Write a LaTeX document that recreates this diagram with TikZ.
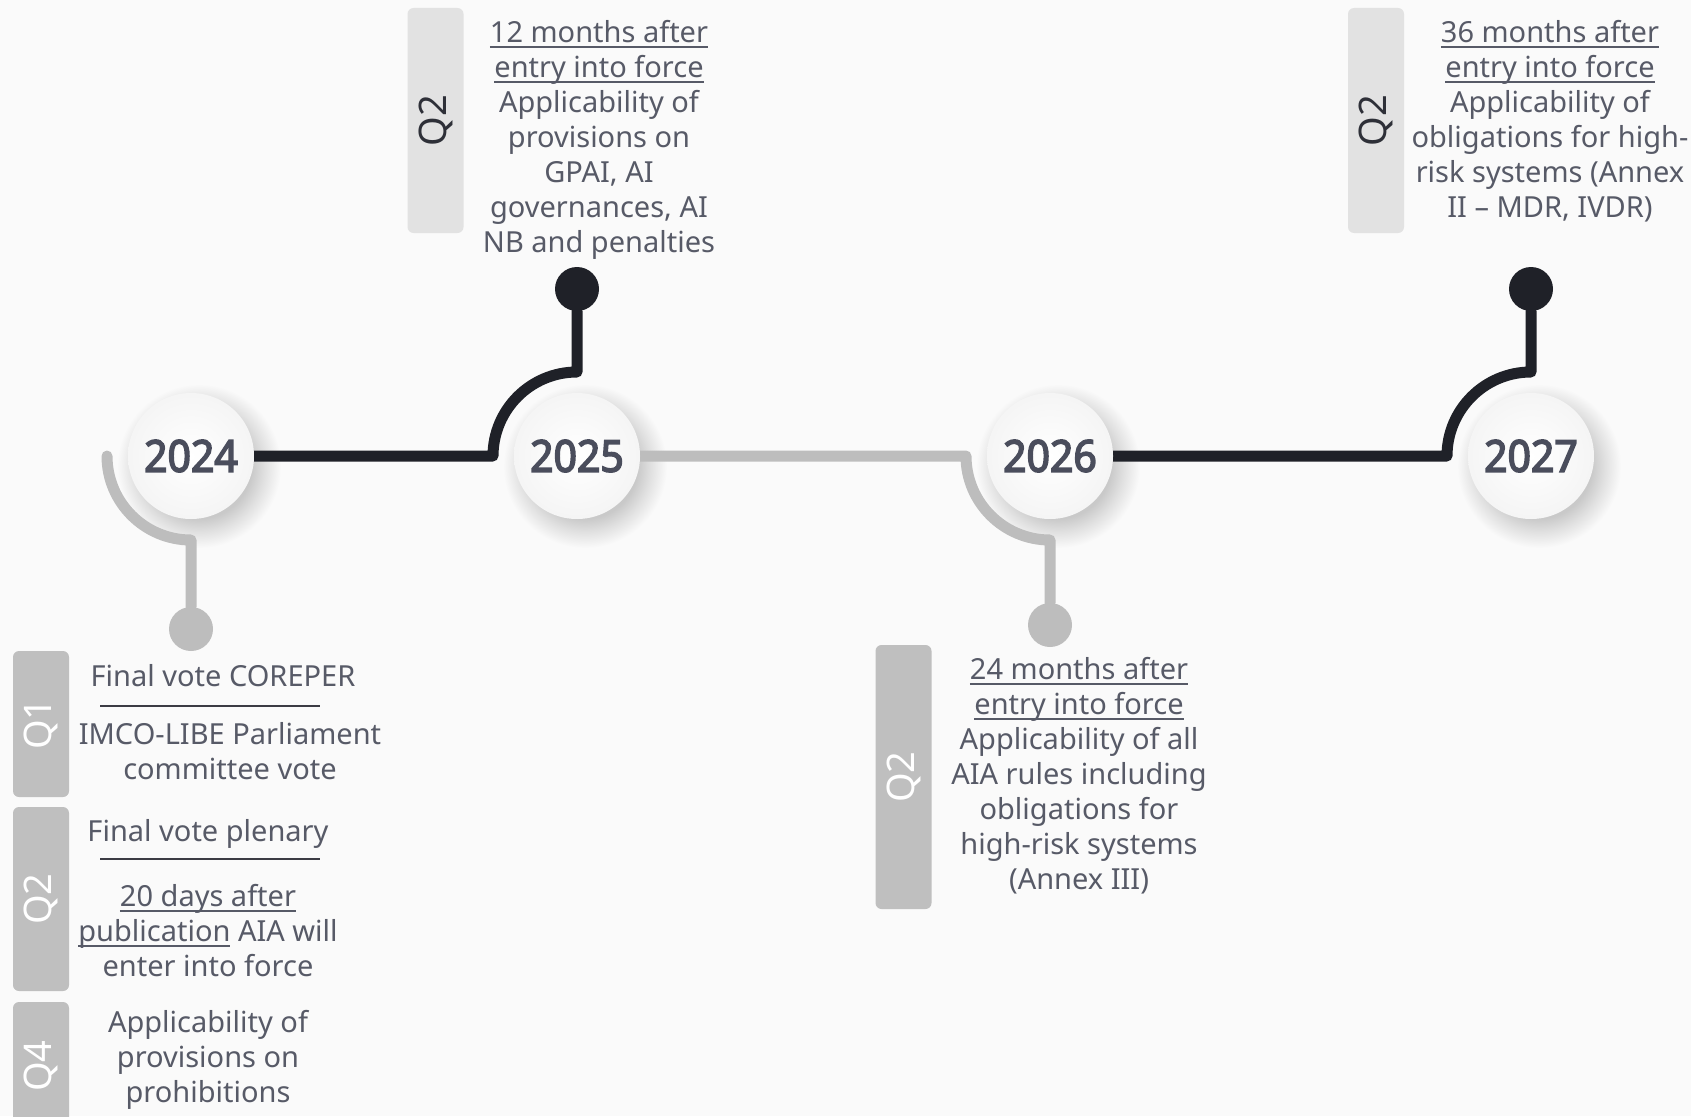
\documentclass[tikz,border=0pt]{standalone}
\usepackage{fontspec}
\setmainfont{Noto Sans}
\newfontfamily\yearfont[FakeStretch=0.93,FakeBold=3.5]{Noto Sans}
\usetikzlibrary{calc}
\definecolor{bgc}{HTML}{FAFAFA}
\definecolor{blk}{HTML}{1F2128}
\definecolor{gry}{HTML}{BDBDBD}
\definecolor{lbox}{HTML}{E2E2E2}
\definecolor{dbox}{HTML}{BFBFBF}
\definecolor{txt}{HTML}{575A67}
\definecolor{yrc}{HTML}{4A4D5C}
\definecolor{sepc}{HTML}{3C3C44}
\definecolor{qtxt}{HTML}{2E3038}
\definecolor{sh1}{HTML}{C9C9C9}
\definecolor{sh2}{HTML}{E0E0E0}
\pgfdeclareradialshading{softsh}{\pgfpointorigin}{color(0bp)=(sh1); color(16bp)=(sh1); color(20bp)=(sh2); color(25bp)=(bgc); color(50bp)=(bgc)}
\newcommand\ulx[1]{\setbox0=\hbox{#1}\rlap{\rule[-5.5pt]{\wd0}{1.6pt}}\box0\relax}
\pgfdeclarelayer{back}
\pgfsetlayers{back,main}
\begin{document}
\begin{tikzpicture}[x=1pt,y=-1pt,
  yr/.style={circle, minimum size=126pt, inner sep=0pt, inner color=white, outer color=black!4,
    text=yrc, font=\yearfont\fontsize{44}{44}\selectfont},
  dotn/.style={circle, minimum size=44pt, inner sep=0pt, fill=#1},
  conn/.style={line width=11pt, draw=#1, line cap=round, line join=round},
  qlight/.style={rectangle, rounded corners=6pt, fill=lbox, text=qtxt, rotate=90, minimum width=#1, minimum height=56pt, inner sep=0pt, font=\fontsize{38}{38}\selectfont},
  qdark/.style={rectangle, rounded corners=6pt, fill=dbox, text=white, rotate=90, minimum width=#1, minimum height=56pt, inner sep=0pt, font=\fontsize{38}{38}\selectfont},
  body/.style={font=\fontsize{29}{35}\selectfont, text=txt, align=center, inner sep=0pt, anchor=north},
  sepl/.style={line width=2pt, draw=sepc},
  shad/.style={shading=softsh}
]
\useasboundingbox (0,0) rectangle (1691,1116);

% year circles
\node[yr] (c24) at (191,456) {2024};
\node[yr] (c25) at (577,456) {2025};
\node[yr] (c26) at (1050,456) {2026};
\node[yr] (c27) at (1531,456) {2027};

% dots
\node[dotn=gry] (d24) at (191,629) {};
\node[dotn=blk] (d25) at (577,289) {};
\node[dotn=gry] (d26) at (1050,625) {};
\node[dotn=blk] (d27) at (1531,289) {};

\begin{pgfonlayer}{back}
\fill[bgc] (0,0) rectangle (1691,1116);
\foreach \c in {c24,c25,c26,c27}{
  \shade[shad] ($(\c)+(8,10)$) circle[radius=82];
}
\draw[conn=gry] ($(c24)+(-84,0)$) arc[start angle=180,end angle=90,radius=84] -- (d24);
\draw[conn=blk] (c24) -- ($(c25)+(-84,0)$) arc[start angle=180,end angle=270,radius=84] -- (d25);
\draw[conn=gry] (c25) -- ($(c26)+(-84,0)$) arc[start angle=180,end angle=90,radius=84] -- (d26);
\draw[conn=blk] (c26) -- ($(c27)+(-84,0)$) arc[start angle=180,end angle=270,radius=84] -- (d27);
\end{pgfonlayer}

% quarter boxes
\node[qlight=225pt] (q25) at (435.5,120.5) {Q2};
\node[qlight=225pt] (q27) at (1376,120.5) {Q2};
\node[qdark=264pt] (q26) at (903.5,777) {Q2};
\node[qdark=146pt] (q1) at (41,724) {Q1};
\node[qdark=184pt] (q2) at (41,899) {Q2};
\node[qdark=128pt] (q4) at (41,1066) {Q4};

% texts
\node[body] (t25) at (599,20) {\ulx{12 months after}\\\ulx{entry into force}\\Applicability of\\provisions on\\GPAI, AI\\governances, AI\\NB and penalties};
\node[body] (t27) at (1550,20) {\ulx{36 months after}\\\ulx{entry into force}\\Applicability of\\obligations for high-\\risk systems (Annex\\II – MDR, IVDR)};
\node[body] (t26) at (1079,657) {\ulx{24 months after}\\\ulx{entry into force}\\Applicability of all\\AIA rules including\\obligations for\\high-risk systems\\(Annex III)};
\node[body] (l1) at (223,664) {Final vote COREPER};
\node[body] (l2) at (230,722) {IMCO-LIBE Parliament\\committee vote};
\node[body] (l3) at (208,819) {Final vote plenary};
\node[body] (l4) at (208,884) {\ulx{20 days after}\\\ulx{publication} AIA will\\enter into force};
\node[body] (l5) at (208,1010) {Applicability of\\provisions on\\prohibitions};

% separators
\coordinate (s1a) at (100,706);
\coordinate (s1b) at (320,706);
\coordinate (s2a) at (100,859);
\coordinate (s2b) at (320,859);
\draw[sepl] (s1a) -- (s1b);
\draw[sepl] (s2a) -- (s2b);
\end{tikzpicture}
\end{document}
